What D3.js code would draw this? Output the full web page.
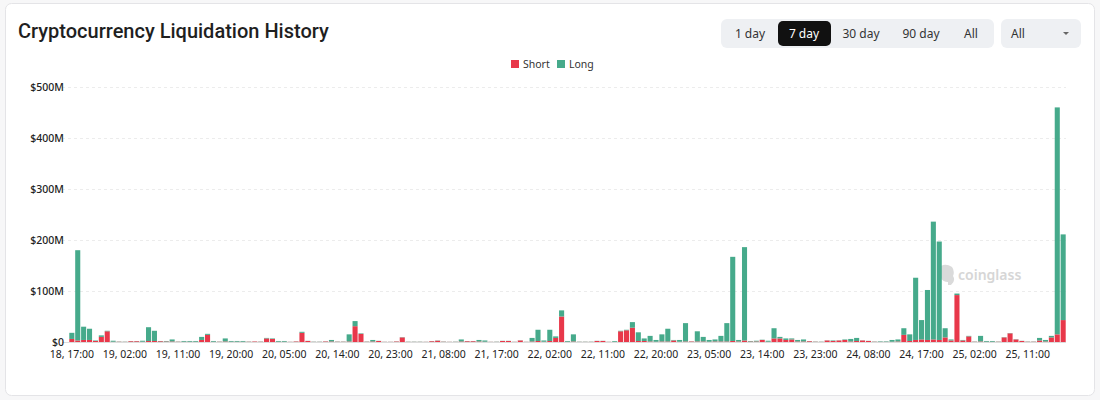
<!DOCTYPE html>
<html>
<head>
<meta charset="utf-8">
<script src="https://cdn.jsdelivr.net/npm/d3@7.9.0/dist/d3.min.js"></script>
<style>
  body { margin: 0; background: #f7f7f8; font-family: "Noto Sans", sans-serif; }
  svg { display: block; }
</style>
</head>
<body>
<svg id="chart"></svg>
<script>
// hourly liquidations ($M), 18 17:00 -> 25 17:00
const shortVals = [
  6, 3, 4, 4, 2, 10, 21, 0.5, 0.5, 0.3, 1.5, 1.5, 0.5, 2, 2, 1.5, 1, 1, 0.5, 0.5,
  0.5, 0.5, 4, 14, 0.5, 0.5, 1, 0.5, 0.5, 0.5, 0.5, 1, 0.5, 7, 6, 0.5, 0.5, 0.3, 1, 18,
  2, 0.3, 0.3, 1, 1, 0.5, 0.5, 1, 31, 16, 0.5, 1, 2, 0.3, 0.3, 1, 9, 0.3, 0.3, 0.3,
  0.3, 1.5, 2.5, 0.5, 0.3, 0.3, 1, 1.5, 1.5, 1, 0.5, 0.3, 0.3, 2, 2, 0.3, 3, 0.3, 1, 2,
  0.5, 2, 8, 50, 0.5, 1, 0.3, 0.3, 0.3, 2, 2, 0.3, 0.3, 21, 23, 28, 2, 2, 1, 0.5,
  1, 1, 3, 0.5, 1, 1, 1, 1, 0.5, 1, 1, 1, 2, 1, 3, 1, 1, 4, 0.5, 7,
  7, 4, 5, 1, 1, 1.5, 0.5, 0.3, 3, 2, 3, 4, 1, 2, 3, 2, 0.5, 0.3, 0.3, 0.5,
  1, 14, 2, 4, 5, 4, 5, 4, 9, 3, 92, 3, 11, 0.5, 1, 0.5, 0.5, 0.5, 9, 17,
  5, 2, 0.5, 0.5, 3, 1, 9, 15, 43
];
const longVals = [
  12, 177, 26, 22, 1, 3, 1, 2, 0.5, 0.5, 0.3, 0.3, 2, 27, 20, 0.5, 1, 4, 0.5, 1.5,
  1.5, 1.5, 6, 2, 1.5, 0.5, 6, 1.5, 1.5, 1.5, 0.5, 0.2, 0.5, 1, 1, 1.5, 1.5, 0.3, 0.3, 2,
  0.3, 0.5, 0.5, 0.3, 3, 0.5, 0.5, 14, 10, 1, 0.5, 3, 0.3, 0.3, 0.3, 0.3, 0.5, 0.5, 0.5, 0.5,
  0.3, 0.3, 0.5, 0.5, 0.3, 0.5, 4, 0.3, 0.3, 3, 2.5, 0.3, 0.5, 0.3, 0.3, 0.3, 0.3, 0.3, 7, 22,
  2.5, 22, 3, 12, 1.5, 14, 0.5, 0.5, 0.5, 0.3, 0.3, 0.3, 1.5, 1, 1, 11, 17, 5, 11, 3.5,
  14, 25, 1, 3.5, 36, 0.3, 20, 9, 3.5, 4, 11, 36, 165, 3, 183, 1, 1.5, 0.5, 2, 20,
  3, 3, 2, 3, 4, 0.3, 0.5, 0.5, 0.3, 1, 0.3, 1, 5, 6, 0.3, 0.3, 0.5, 1, 1, 3.5,
  4, 13, 13, 122, 38, 98, 231, 193, 18, 2, 3, 1, 1, 0.5, 11, 1.5, 1.5, 0.5, 0.5, 0.5,
  0.5, 0.3, 0.5, 0.5, 5, 3, 3, 445, 168
];
const hours = d3.range(shortVals.length).map(i => {
  const t = new Date(Date.UTC(2024, 0, 18, 17 + i));
  return d3.utcFormat("%d, %H:%M")(t);
});
const tickLabels = ["18, 17:00", "19, 02:00", "19, 11:00", "19, 20:00", "20, 05:00", "20, 14:00",
  "20, 23:00", "21, 08:00", "21, 17:00", "22, 02:00", "22, 11:00", "22, 20:00", "23, 05:00",
  "23, 14:00", "23, 23:00", "24, 08:00", "24, 17:00", "25, 02:00", "25, 11:00"];
const yTicks = [0, 100, 200, 300, 400, 500];
const ranges = ["1 day", "7 day", "30 day", "90 day", "All"];

const W = 1100, H = 400;
const red = "#e8384a", green = "#46aa8b";

const svg = d3.select("#chart").attr("width", W).attr("height", H);

// card
svg.append("rect")
  .attr("x", 5.5).attr("y", 3.5).attr("width", 1089).attr("height", 392)
  .attr("rx", 6).attr("fill", "#fff").attr("stroke", "#e4e4e7");

svg.append("text")
  .attr("x", 18).attr("y", 38)
  .attr("font-family", "Roboto, sans-serif")
  .attr("font-size", 20).attr("font-weight", 500).attr("fill", "#1f1f1f")
  .text("Cryptocurrency Liquidation History");

// range buttons
svg.append("rect").attr("x", 721).attr("y", 19).attr("width", 273).attr("height", 29)
  .attr("rx", 6).attr("fill", "#eef0f3");
const btnX = [750, 804, 861, 921, 971];
svg.append("rect").attr("x", 778).attr("y", 21).attr("width", 53).attr("height", 25)
  .attr("rx", 5).attr("fill", "#111");
svg.selectAll(".btn").data(ranges).enter().append("text")
  .attr("x", (d, i) => btnX[i]).attr("y", 38)
  .attr("text-anchor", "middle").attr("font-size", 12)
  .attr("fill", d => d === "7 day" ? "#fff" : "#333")
  .text(d => d);

svg.append("rect").attr("x", 1001).attr("y", 19).attr("width", 80).attr("height", 29)
  .attr("rx", 6).attr("fill", "#eef0f3");
svg.append("text").attr("x", 1011).attr("y", 38).attr("font-size", 12).attr("fill", "#333").text("All");
svg.append("path").attr("d", "M1063,32 L1069,32 L1066,35 Z").attr("fill", "#666");

// legend
const legend = [{k: "Short", c: red, x: 511}, {k: "Long", c: green, x: 557}];
legend.forEach(l => {
  svg.append("rect").attr("x", l.x).attr("y", 60).attr("width", 8).attr("height", 8).attr("fill", l.c);
  svg.append("text").attr("x", l.x + 12).attr("y", 68).attr("font-size", 10.5).attr("fill", "#333").text(l.k);
});

const x = d3.scaleBand().domain(hours).range([69, 1066]).paddingInner(0.14).paddingOuter(0.05);
const y = d3.scaleLinear().domain([0, 500]).range([342, 87]);

// grid + y labels
svg.append("g").selectAll("line").data(yTicks).enter().append("line")
  .attr("x1", 62).attr("x2", 1066)
  .attr("y1", d => y(d) + 0.5).attr("y2", d => y(d) + 0.5)
  .attr("stroke", d => d === 0 ? "#dcdcdc" : "#ececec")
  .attr("stroke-dasharray", d => d === 0 ? null : "3,3");
svg.append("g").selectAll("text").data(yTicks).enter().append("text")
  .attr("x", 64).attr("y", d => y(d) + 3.5)
  .attr("text-anchor", "end").attr("font-size", 10.5).attr("font-weight", 500).attr("fill", "#222")
  .text(d => d === 0 ? "$0" : `$${d}M`);

// watermark
const wm = svg.append("g").attr("opacity", 0.9);
wm.append("path")
  .attr("d", "M941,266 q5,-3 11,1 q3,4 1,9 q3,5 -2,9 l-3,0 l0,-3 q-5,0 -7,-4 q-3,-6 0,-12 Z")
  .attr("fill", "#d6d6d6");
wm.append("text").attr("x", 958).attr("y", 280).attr("font-size", 14).attr("font-weight", 600)
  .attr("fill", "#d2d2d2").text("coinglass");

// bars
const rows = hours.map((h, i) => ({hour: h, short: shortVals[i], long: longVals[i]}));
const series = d3.stack().keys(["short", "long"])(rows);
svg.append("g").selectAll("g").data(series).enter().append("g")
  .attr("fill", d => d.key === "short" ? red : green)
  .selectAll("rect").data(d => d).enter().append("rect")
  .attr("x", d => x(d.data.hour))
  .attr("width", x.bandwidth())
  .attr("y", d => y(d[1]))
  .attr("height", d => y(d[0]) - y(d[1]));

// x labels
svg.append("g").selectAll("text").data(tickLabels).enter().append("text")
  .attr("x", d => x(d) + x.bandwidth() / 2).attr("y", 358)
  .attr("text-anchor", "middle").attr("font-size", 10.5).attr("fill", "#222")
  .text(d => d);
</script>
</body>
</html>
